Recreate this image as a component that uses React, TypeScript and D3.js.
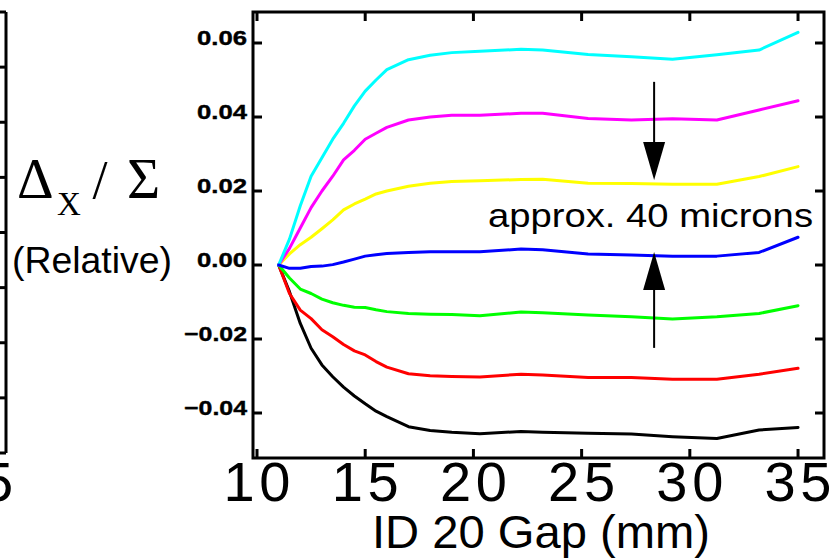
import React from "react";
import * as d3 from "d3";

const W = 838;
const H = 559;

// Gap values (mm) at which each trace was sampled
const gaps = [11, 11.5, 12, 12.5, 13, 13.5, 14, 14.5, 15, 15.5, 16, 17, 18, 19, 20.3, 22.2, 23.2, 25.3, 27.3, 29.2, 31.25, 33.2, 35];

const cyanVals = [0, 0.007, 0.016, 0.024, 0.029, 0.034, 0.0383, 0.043, 0.047, 0.05, 0.0528, 0.0555, 0.0567, 0.0574, 0.0578, 0.0583, 0.0581, 0.0569, 0.0563, 0.0556, 0.0568, 0.0581, 0.0629];
const magentaVals = [0, 0.0045, 0.01, 0.0155, 0.02, 0.024, 0.0284, 0.031, 0.034, 0.0356, 0.0372, 0.0392, 0.04, 0.0405, 0.0405, 0.041, 0.041, 0.0396, 0.0392, 0.0395, 0.0392, 0.0419, 0.0444];
const yellowVals = [0, 0.003, 0.0055, 0.0075, 0.0098, 0.0122, 0.0149, 0.0165, 0.0178, 0.0192, 0.02, 0.0213, 0.0221, 0.0226, 0.0228, 0.0231, 0.0232, 0.0221, 0.022, 0.0218, 0.0218, 0.0239, 0.0266];
const blueVals = [0, -0.0009, -0.0009, -0.0004, -0.0003, 0.0001, 0.0008, 0.0016, 0.0024, 0.0028, 0.0031, 0.0034, 0.0036, 0.0036, 0.0036, 0.0043, 0.0041, 0.003, 0.0027, 0.0024, 0.0024, 0.0034, 0.0075];
const greenVals = [0, -0.0035, -0.0065, -0.0077, -0.0092, -0.0102, -0.0109, -0.0114, -0.0115, -0.0121, -0.0126, -0.0131, -0.0133, -0.0134, -0.0137, -0.0127, -0.0129, -0.0135, -0.014, -0.0146, -0.014, -0.0131, -0.011];
const redVals = [0, -0.0077, -0.0122, -0.0145, -0.0175, -0.0194, -0.0215, -0.0232, -0.0243, -0.0261, -0.0276, -0.0294, -0.0299, -0.0301, -0.0303, -0.0295, -0.0297, -0.0304, -0.0304, -0.0309, -0.0309, -0.0295, -0.0279];
const blackVals = [0, -0.0072, -0.0158, -0.0225, -0.027, -0.0302, -0.033, -0.0354, -0.0375, -0.0395, -0.041, -0.0437, -0.0447, -0.0452, -0.0456, -0.045, -0.0452, -0.0455, -0.0457, -0.0464, -0.0469, -0.0446, -0.0439];

const seriesColors = ["#000000", "#ff0000", "#00ff00", "#ffff00", "#ff00ff", "#00ffff", "#0000ff"];
const seriesValues = [blackVals, redVals, greenVals, yellowVals, magentaVals, cyanVals, blueVals];

const xTicks = [10, 15, 20, 25, 30, 35];
const yTicks = [-0.04, -0.02, 0.0, 0.02, 0.04, 0.06];
const yTickLabels = ["\u22120.04", "\u22120.02", "0.00", "0.02", "0.04", "0.06"];

// previous (cut-off) panel on the far left
const prevYTicks = [0, 1, 2, 3, 4, 5, 6, 7, 8];

// annotation (data units)
const arrowX = 28.35;
const downArrow = [0.0495, 0.023];
const upArrow = [-0.0224, 0.0035];

const L = 253, R = 824, T = 12, B = 458;

export default function App() {
  const x = d3.scaleLinear().domain([9.815, 36.2]).range([L, R]);
  const y = d3.scaleLinear().domain([-0.05216, 0.06838]).range([B, T]);
  const prevX = d3.scaleLinear().domain([9.815, 36.2]).range([L - 818, R - 818]);
  const prevY = d3.scaleLinear().domain([0, 8]).range([453, 12]);

  const line = d3
    .line<number>()
    .x((_, i) => x(gaps[i]))
    .y((v) => y(v))
    .curve(d3.curveLinear);

  const tickLen = 9;
  const sans = "'Liberation Sans', Arial, Helvetica, sans-serif";
  const serif = "'Liberation Serif', 'Times New Roman', serif";

  const arrowHead = (tipY: number, dir: number) => {
    const ax = x(arrowX);
    const ty = y(tipY);
    const hh = 38, hw = 11;
    return `M${ax},${ty} L${ax - hw},${ty - dir * hh} L${ax + hw},${ty - dir * hh} Z`;
  };

  return (
    <svg width={W} height={H} style={{ position: "absolute", left: 0, top: 0, background: "#fff" }}>
      <rect x={0} y={0} width={W} height={H} fill="#fff" />

      {/* previous panel fragment */}
      <line x1={prevX.range()[1]} x2={prevX.range()[1]} y1={prevY(8)} y2={prevY(0)} stroke="#000" strokeWidth={3} />
      {prevYTicks.map((t) => (
        <line key={"pt" + t} x1={prevX.range()[1]} x2={prevX.range()[1] - tickLen} y1={prevY(t)} y2={prevY(t)} stroke="#000" strokeWidth={3} />
      ))}
      <text x={prevX(35)} y={501} textAnchor="middle" fontFamily={sans} fontSize={56} textLength={66} lengthAdjust="spacing" fill="#000">35</text>

      {/* data lines */}
      {seriesValues.map((vals, i) => (
        <path key={"s" + i} d={line(vals) || ""} fill="none" stroke={seriesColors[i]} strokeWidth={3} strokeLinejoin="round" strokeLinecap="round" />
      ))}

      {/* frame */}
      <rect x={L} y={T} width={R - L} height={B - T} fill="none" stroke="#000" strokeWidth={3} />

      {/* x ticks top and bottom */}
      {xTicks.map((t) => (
        <g key={"xt" + t}>
          <line x1={x(t)} x2={x(t)} y1={B} y2={B - tickLen} stroke="#000" strokeWidth={3} />
          <line x1={x(t)} x2={x(t)} y1={T} y2={T + tickLen} stroke="#000" strokeWidth={3} />
          <text x={x(t)} y={501} textAnchor="middle" fontFamily={sans} fontSize={56} textLength={67} lengthAdjust="spacing" fill="#000">
            {String(t)}
          </text>
        </g>
      ))}

      {/* y ticks left and right */}
      {yTicks.map((t, i) => (
        <g key={"yt" + i}>
          <line x1={L} x2={L + tickLen} y1={y(t)} y2={y(t)} stroke="#000" strokeWidth={3} />
          <line x1={R} x2={R - tickLen} y1={y(t)} y2={y(t)} stroke="#000" strokeWidth={3} />
          <text
            x={247}
            y={y(t) + 2}
            textAnchor="end"
            fontFamily={sans}
            fontWeight="bold"
            fontSize={21}
            stroke="#000"
            strokeWidth={0.4}
            textLength={t < 0 ? 63 : 50}
            lengthAdjust="spacingAndGlyphs"
            fill="#000"
          >
            {yTickLabels[i]}
          </text>
        </g>
      ))}

      {/* y axis title */}
      <text x={17} y={198} fontFamily={serif} fontSize={57} fill="#000">Δ</text>
      <text x={57} y={215} fontFamily={serif} fontSize={33} fill="#000">X</text>
      <text x={100} y={198} textAnchor="middle" fontFamily={serif} fontSize={54} fill="#000">/</text>
      <text x={127} y={198} fontFamily={serif} fontSize={57} fill="#000">Σ</text>
      <text x={92} y={273} textAnchor="middle" fontFamily={sans} fontSize={37} textLength={160} lengthAdjust="spacingAndGlyphs" fill="#000">(Relative)</text>

      {/* x axis title */}
      <text x={541} y={548} textAnchor="middle" fontFamily={sans} fontSize={46} textLength={338} lengthAdjust="spacingAndGlyphs" fill="#000">ID 20 Gap (mm)</text>

      {/* annotation */}
      <line x1={x(arrowX)} x2={x(arrowX)} y1={y(downArrow[0])} y2={y(downArrow[1]) - 30} stroke="#000" strokeWidth={2} />
      <path d={arrowHead(downArrow[1], 1)} fill="#000" />
      <line x1={x(arrowX)} x2={x(arrowX)} y1={y(upArrow[0])} y2={y(upArrow[1]) + 30} stroke="#000" strokeWidth={2} />
      <path d={arrowHead(upArrow[1], -1)} fill="#000" />
      <text x={488} y={227} fontFamily={sans} fontSize={33} textLength={325} lengthAdjust="spacingAndGlyphs" fill="#000">approx. 40 microns</text>
    </svg>
  );
}
